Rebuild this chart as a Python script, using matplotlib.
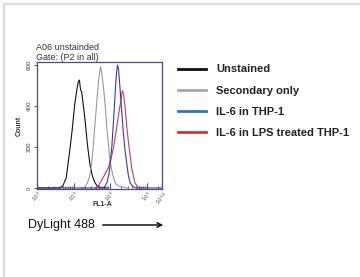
import matplotlib
matplotlib.use("Agg")
import matplotlib.pyplot as plt
import numpy as np
from matplotlib.lines import Line2D
from matplotlib.ticker import LogLocator, NullFormatter

plt.rcParams["font.family"] = ["Liberation Sans", "DejaVu Sans"]

# histogram traces: log10(FL1-A) vs count
unstained_log = [2.0, 2.6, 2.7, 2.8, 2.88, 2.96, 3.03, 3.09, 3.13, 3.16, 3.19,
                 3.22, 3.27, 3.32, 3.38, 3.45, 3.52, 3.59, 3.66, 3.75, 3.9]
unstained_cnt = [0, 0, 8, 50, 160, 280, 405, 480, 520, 527, 480,
                 470, 400, 322, 210, 112, 55, 24, 8, 2, 0]

secondary_log = [3.2, 3.3, 3.38, 3.44, 3.49, 3.54, 3.59, 3.64, 3.68, 3.72, 3.74,
                 3.77, 3.82, 3.87, 3.91, 3.96, 4.0, 4.07, 4.14, 4.22, 4.35, 4.5]
secondary_cnt = [0, 3, 25, 60, 112, 210, 322, 430, 517, 575, 592,
                 560, 488, 390, 293, 200, 127, 65, 24, 10, 4, 0]

il6_log = [2.0, 3.8, 3.86, 3.92, 3.97, 4.0, 4.05, 4.09, 4.13, 4.15, 4.18, 4.2,
           4.23, 4.27, 4.31, 4.36, 4.41, 4.46, 4.5, 4.55, 4.62, 4.7, 5.42]
il6_cnt = [0, 0, 8, 30, 70, 112, 210, 322, 440, 503, 570, 600,
           580, 488, 390, 273, 180, 112, 60, 24, 8, 0, 0]

lps_log = [3.6, 3.7, 3.77, 3.85, 3.95, 4.02, 4.09, 4.15, 4.2, 4.25, 4.29, 4.32,
           4.34, 4.37, 4.41, 4.45, 4.5, 4.55, 4.59, 4.64, 4.68, 4.75, 4.85]
lps_cnt = [0, 15, 39, 65, 98, 140, 195, 260, 322, 380, 420, 465,
           475, 455, 390, 310, 224, 155, 98, 55, 24, 6, 0]

legend_labels = ["Unstained", "Secondary only", "IL-6 in THP-1",
                 "IL-6 in LPS treated THP-1"]
legend_colors = ["#111111", "#a8a8a8", "#2f78b6", "#d03238"]

x_ticks = [1e2, 1e3, 1e4, 1e5, 262144]
x_ticklabels = ["$10^2$", "$10^3$", "$10^4$", "$10^5$", "$10^{5.4}$"]
y_ticks = [0, 200, 400, 600]

W, H = 360, 277
fig = plt.figure(figsize=(W / 100, H / 100), dpi=100)

# light grey frame lines of the original figure
fig.add_artist(Line2D([4 / W, 4 / W], [0, 1 - 4 / H], color="#dcdcdc", lw=1.6))
fig.add_artist(Line2D([4 / W, 1], [1 - 4 / H, 1 - 4 / H], color="#dcdcdc", lw=1.6))

ax = fig.add_axes([37 / W, 1 - 189 / H, 125 / W, 127 / H])
spine_c = "#4b4b7e"
for x, y, c in [(unstained_log, unstained_cnt, "#111111"),
                (secondary_log, secondary_cnt, "#999999"),
                (lps_log, lps_cnt, "#cc3a5c"),
                (il6_log, il6_cnt, "#3a3aa8")]:
    ax.plot(10 ** np.array(x), y, color=c, lw=0.8)

ax.set_xscale("log")
ax.set_xlim(100, 262144)
ax.set_ylim(-5, 615)
for s in ax.spines.values():
    s.set_color(spine_c)
    s.set_linewidth(0.9)

ax.set_xticks(x_ticks)
ax.set_xticklabels(x_ticklabels, rotation=45, ha="center", fontsize=4,
                   color=spine_c)
ax.xaxis.set_minor_locator(LogLocator(base=10, subs=np.arange(2, 10), numticks=20))
ax.xaxis.set_minor_formatter(NullFormatter())
ax.tick_params(axis="x", which="major", direction="in", length=4, width=0.8,
               color=spine_c, pad=0.5)
ax.tick_params(axis="x", which="minor", direction="in", length=2.5, width=0.6,
               color=spine_c)
ax.set_yticks(y_ticks)
ax.set_yticklabels([str(v) for v in y_ticks], rotation=90, va="center",
                   fontsize=4.5, color="#444444")
ax.tick_params(axis="y", direction="out", length=2, width=0.7, color=spine_c, pad=2)

ax.set_ylabel("Count", fontsize=5, fontweight="bold", color="#333333", labelpad=3)
fig.text(102 / W, 1 - 204 / H, "FL1-A", fontsize=5, fontweight="bold",
         color="#333333", ha="center", va="center")

fig.text(36 / W, 1 - 47 / H, "A06 unstainded", fontsize=6.5, color="#333333",
         va="center", ha="left")
fig.text(36 / W, 1 - 58 / H, "Gate: (P2 in all)", fontsize=6.5, color="#333333",
         va="center", ha="left")

handles = [Line2D([], [], color=c, lw=2) for c in legend_colors]
fig.legend(handles, legend_labels, loc="upper left",
           bbox_to_anchor=(174 / W, 1 - 60 / H), frameon=False,
           prop={"size": 8, "weight": "bold"}, handlelength=2.5,
           handletextpad=0.9, labelspacing=1.0, borderaxespad=0,
           labelcolor="#222222")

fig.text(28 / W, 1 - 225 / H, "DyLight 488", fontsize=9, color="#111111",
         va="center", ha="left")
fig.add_artist(matplotlib.patches.FancyArrowPatch(
    (100 / W, 1 - 225 / H), (166 / W, 1 - 225 / H), transform=fig.transFigure,
    arrowstyle="->", mutation_scale=8, lw=1.1, color="#111111"))

fig.savefig("out.png", dpi=100)
